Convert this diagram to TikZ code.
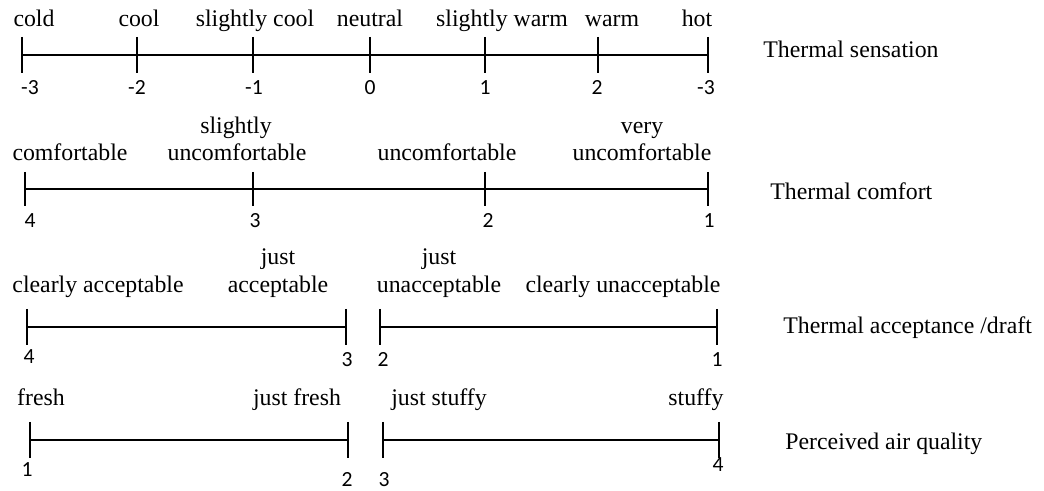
\documentclass[tikz,border=0pt]{standalone}
\usepackage{fontspec}
\setmainfont{Liberation Serif}
\newfontfamily\numfont{Carlito}
\begin{document}
\begin{tikzpicture}[x=0.5pt,y=-0.5pt,
  lbl/.style={anchor=base,inner sep=0pt,font=\fontsize{11.9}{14}\selectfont},
  num/.style={anchor=base,inner sep=0pt,font=\numfont\fontsize{10.8}{12}\selectfont},
  ttl/.style={anchor=base west,inner sep=0pt,font=\fontsize{11.9}{14}\selectfont},
  axis/.style={line width=1.3pt},
  tickmark/.style={line width=1.3pt}]
\useasboundingbox (0,0) rectangle (1044,491);
% ---------- Row 1: Thermal sensation ----------
\coordinate (a1) at (22,55);
\coordinate (a2) at (137,55);
\coordinate (a3) at (253,55);
\coordinate (a4) at (370,55);
\coordinate (a5) at (485,55);
\coordinate (a6) at (598,55);
\coordinate (a7) at (708,55);
\draw[axis] (a1) -- (a7);
\foreach \c in {a1,a2,a3,a4,a5,a6,a7}
  \draw[tickmark] ([yshift=9pt]\c) -- ([yshift=-9pt]\c);
\node[lbl] (w11) at (34,27) {cold};
\node[lbl] (w12) at (139,27) {cool};
\node[lbl] (w13) at (255,27) {slightly cool};
\node[lbl] (w14) at (370,27) {neutral};
\node[lbl] (w15) at (502,27) {slightly warm};
\node[lbl] (w16) at (612,27) {warm};
\node[lbl] (w17) at (697,27) {hot};
\node[num] (n11) at (30,95) {-3};
\node[num] (n12) at (137,95) {-2};
\node[num] (n13) at (254,95) {-1};
\node[num] (n14) at (370,95) {0};
\node[num] (n15) at (485,95) {1};
\node[num] (n16) at (597,95) {2};
\node[num] (n17) at (706,95) {-3};
\node[ttl] (t1) at (763,58) {Thermal sensation};
% ---------- Row 2: Thermal comfort ----------
\coordinate (b1) at (25,189);
\coordinate (b2) at (253,189);
\coordinate (b3) at (485,189);
\coordinate (b4) at (708,189);
\draw[axis] (b1) -- (b4);
\foreach \c in {b1,b2,b3,b4}
  \draw[tickmark] ([yshift=8.5pt]\c) -- ([yshift=-8.5pt]\c);
\node[lbl] (w21) at (70,161) {comfortable};
\node[lbl] (w22a) at (236,134) {slightly};
\node[lbl] (w22b) at (237,161) {uncomfortable};
\node[lbl] (w23) at (447,161) {uncomfortable};
\node[lbl] (w24a) at (642,134) {very};
\node[lbl] (w24b) at (642,161) {uncomfortable};
\node[num] (n21) at (30,228) {4};
\node[num] (n22) at (255,228) {3};
\node[num] (n23) at (488,228) {2};
\node[num] (n24) at (709,228) {1};
\node[ttl] (t2) at (770,200) {Thermal comfort};
% ---------- Row 3: Thermal acceptance / draft ----------
\coordinate (c1) at (27,327);
\coordinate (c2) at (346,327);
\coordinate (c3) at (380,327);
\coordinate (c4) at (717,327);
\draw[axis] (c1) -- (c2);
\draw[axis] (c3) -- (c4);
\foreach \c in {c1,c2,c3,c4}
  \draw[tickmark] ([yshift=9pt]\c) -- ([yshift=-9pt]\c);
\node[lbl] (w31) at (98,293) {clearly acceptable};
\node[lbl] (w32a) at (278,265) {just};
\node[lbl] (w32b) at (278,293) {acceptable};
\node[lbl] (w33a) at (439,265) {just};
\node[lbl] (w33b) at (439,293) {unacceptable};
\node[lbl] (w34) at (623,293) {clearly unacceptable};
\node[num] (n31) at (29,364) {4};
\node[num] (n32) at (347,367) {3};
\node[num] (n33) at (383,367) {2};
\node[num] (n34) at (717,367) {1};
\node[ttl] (t3) at (783,334) {Thermal acceptance /draft};
% ---------- Row 4: Perceived air quality ----------
\coordinate (d1) at (30,440);
\coordinate (d2) at (348,440);
\coordinate (d3) at (383,440);
\coordinate (d4) at (719,440);
\draw[axis] (d1) -- (d2);
\draw[axis] (d3) -- (d4);
\foreach \c in {d1,d2,d3,d4}
  \draw[tickmark] ([yshift=9pt]\c) -- ([yshift=-9pt]\c);
\node[lbl] (w41) at (41,406) {fresh};
\node[lbl] (w42) at (297,406) {just fresh};
\node[lbl] (w43) at (439,406) {just stuffy};
\node[lbl] (w44) at (696,406) {stuffy};
\node[num] (n41) at (27,477) {1};
\node[num] (n42) at (347,487) {2};
\node[num] (n43) at (384,487) {3};
\node[num] (n44) at (718,472) {4};
\node[ttl] (t4) at (785,450) {Perceived air quality};
\end{tikzpicture}
\end{document}
